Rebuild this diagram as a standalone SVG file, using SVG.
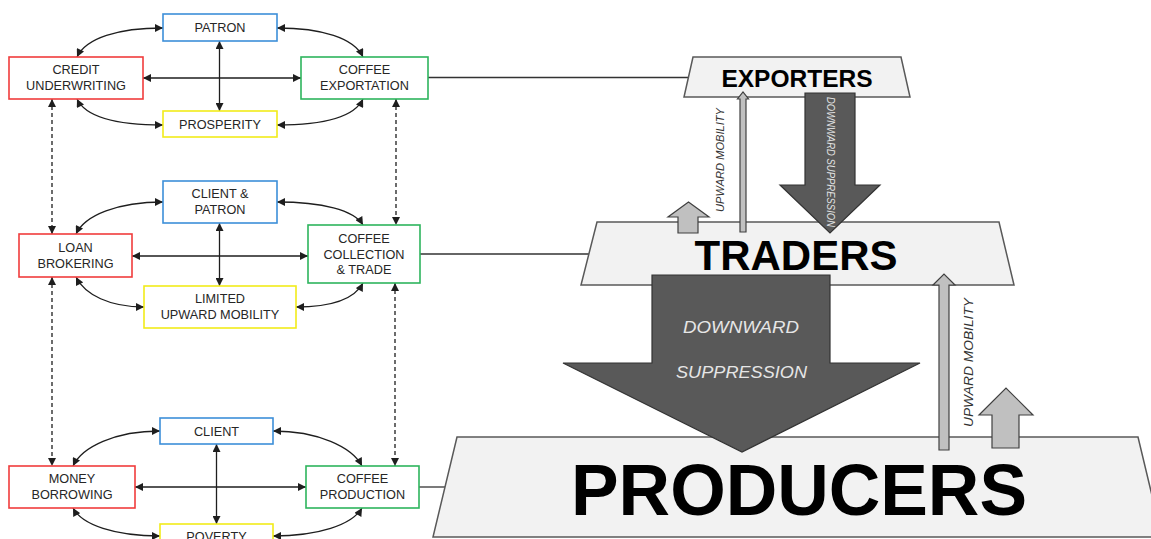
<svg xmlns="http://www.w3.org/2000/svg" width="1151" height="539" viewBox="0 0 1151 539">
<style>
.bx{fill:#fff;stroke-width:1.6}
.blue{stroke:#3d8fd9}.red{stroke:#f03c3c}.green{stroke:#2db55d}.yel{stroke:#f2ec1a}
.t{font-family:"Liberation Sans",Arial,sans-serif;font-size:12.7px;fill:#262626;text-anchor:middle}
.c{fill:none;stroke:#1e1e1e;stroke-width:1.3;marker-start:url(#ah);marker-end:url(#ah)}
.d{stroke-dasharray:4 3}
.tz{fill:#f2f2f2;stroke:#595959;stroke-width:1.5}
.lg{fill:#c0c0c0;stroke:#404040;stroke-width:1.2}
.dk{fill:#595959;stroke:#333;stroke-width:1.2}
.ln{fill:none;stroke:#333;stroke-width:1.3}
.big{font-family:"Liberation Sans",Arial,sans-serif;font-weight:bold;fill:#000;text-anchor:middle}
.it{font-family:"Liberation Sans",Arial,sans-serif;font-style:italic;text-anchor:middle}
</style>
<defs>
<marker id="ah" viewBox="0 0 10 10" refX="10" refY="5" markerWidth="9" markerHeight="8" markerUnits="userSpaceOnUse" orient="auto-start-reverse">
<path d="M0,0 L10,5 L0,10 z" fill="#1e1e1e"/>
</marker>
</defs>

<g id="connectors">
<path class="c" d="M77 57 C86 38,118 28,163 28"/>
<path class="c" d="M277 28 C322 28,354 38,363 57"/>
<path class="c" d="M77 99 C86 118,118 125,163 125"/>
<path class="c" d="M277 125 C322 125,354 118,363 99"/>
<path class="c" d="M143 78 L301 78"/>
<path class="c" d="M219.5 41 L219.5 111"/>

<path class="c" d="M76 234 C85 215,118 202,163 202"/>
<path class="c" d="M277 202 C322 202,354 210,363 225"/>
<path class="c" d="M76 277 C85 295,110 307,144 307"/>
<path class="c" d="M296 307 C330 307,354 300,363 283"/>
<path class="c" d="M132 256 L308 256"/>
<path class="c" d="M219.5 223 L219.5 286"/>

<path class="c" d="M73 466 C82 447,115 431,160 431"/>
<path class="c" d="M273 431 C318 431,352 447,362 466"/>
<path class="c" d="M73 508 C82 525,115 536,160 536"/>
<path class="c" d="M273 536 C318 536,352 525,362 508"/>
<path class="c" d="M135 487 L306 487"/>
<path class="c" d="M216.5 444 L216.5 524"/>

<path class="c d" d="M52 99 L52 234"/>
<path class="c d" d="M52 277 L52 466"/>
<path class="c d" d="M396 99 L396 225"/>
<path class="c d" d="M395 283 L395 466"/>

<path class="ln" d="M428 77.5 L688 77.5"/>
<path class="ln" d="M420 254 L589 254"/>
<path class="ln" d="M419 487 L445 487"/>
</g>

<g id="credit-underwriting"><rect class="bx red" x="9" y="57" width="134" height="42"/><text class="t" x="76" y="74">CREDIT</text><text class="t" x="76" y="90">UNDERWRITING</text></g>
<g id="patron"><rect class="bx blue" x="163" y="14" width="114" height="27"/><text class="t" x="220" y="32">PATRON</text></g>
<g id="coffee-exportation"><rect class="bx green" x="301" y="57" width="127" height="42"/><text class="t" x="364.5" y="74">COFFEE</text><text class="t" x="364.5" y="90">EXPORTATION</text></g>
<g id="prosperity"><rect class="bx yel" x="163" y="111" width="114" height="26"/><text class="t" x="220" y="129">PROSPERITY</text></g>

<g id="loan-brokering"><rect class="bx red" x="19" y="234" width="113" height="43"/><text class="t" x="75.5" y="252">LOAN</text><text class="t" x="75.5" y="268">BROKERING</text></g>
<g id="client-patron"><rect class="bx blue" x="163" y="181" width="114" height="42"/><text class="t" x="220" y="198">CLIENT &amp;</text><text class="t" x="220" y="214">PATRON</text></g>
<g id="coffee-collection"><rect class="bx green" x="308" y="225" width="112" height="58"/><text class="t" x="364" y="243">COFFEE</text><text class="t" x="364" y="259">COLLECTION</text><text class="t" x="364" y="274">&amp; TRADE</text></g>
<g id="limited-upward-mobility"><rect class="bx yel" x="144" y="286" width="152" height="42"/><text class="t" x="220" y="303">LIMITED</text><text class="t" x="220" y="319">UPWARD MOBILITY</text></g>

<g id="money-borrowing"><rect class="bx red" x="9" y="466" width="126" height="42"/><text class="t" x="72" y="483">MONEY</text><text class="t" x="72" y="499">BORROWING</text></g>
<g id="client"><rect class="bx blue" x="160" y="418" width="113" height="26"/><text class="t" x="216.5" y="436">CLIENT</text></g>
<g id="coffee-production"><rect class="bx green" x="306" y="466" width="113" height="42"/><text class="t" x="362.5" y="483">COFFEE</text><text class="t" x="362.5" y="499">PRODUCTION</text></g>
<g id="poverty"><rect class="bx yel" x="160" y="524" width="113" height="26"/><text class="t" x="216.5" y="541">POVERTY</text></g>

<g id="exporters"><polygon class="tz" points="693,57 901,57 910,97 684,97"/><text class="big" x="797" y="87" font-size="24.5">EXPORTERS</text></g>
<g id="traders"><polygon class="tz" points="597,222 999,222 1014,285 581,285"/><text class="big" x="796" y="270" font-size="42">TRADERS</text></g>
<g id="producers"><polygon class="tz" points="457,437 1138,437 1162,537 433,537"/><text class="big" x="799" y="515" font-size="72" textLength="456" lengthAdjust="spacingAndGlyphs">PRODUCERS</text></g>

<g id="arrows">
<polygon class="dk" points="805,93 855,93 855,185 880,185 830,233 780,185 805,185"/>
<text class="it" transform="translate(831,162) rotate(90)" x="0" y="3.6" font-size="10" fill="#e2e2e2" textLength="130" lengthAdjust="spacingAndGlyphs">DOWNWARD SUPPRESSION</text>
<polygon class="lg" points="740,232 740,99 737.5,99 743,92 748.5,99 746,99 746,232"/>
<text class="it" transform="translate(720.5,160) rotate(-90)" x="0" y="3.6" font-size="10" fill="#333" textLength="104" lengthAdjust="spacingAndGlyphs">UPWARD  MOBILITY</text>
<polygon class="lg" points="678,233 678,217 668,217 688.5,202 709,217 698,217 698,233"/>
<polygon class="dk" points="652,275 830,275 830,363 920,363 742,452 563,363 652,363"/>
<text class="it" x="741" y="333" font-size="17" fill="#e6e6e6" textLength="116" lengthAdjust="spacingAndGlyphs">DOWNWARD</text>
<text class="it" x="741.5" y="378" font-size="17" fill="#e6e6e6" textLength="131" lengthAdjust="spacingAndGlyphs">SUPPRESSION</text>
<polygon class="lg" points="939,450 939,285 933,285 944,274 955,285 949,285 949,450"/>
<text class="it" transform="translate(969,362.5) rotate(-90)" x="0" y="4.2" font-size="12" fill="#333" textLength="129" lengthAdjust="spacingAndGlyphs">UPWARD  MOBILITY</text>
<polygon class="lg" points="992,448 992,415 979,415 1006,388 1033,415 1019,415 1019,448"/>
</g>
</svg>
